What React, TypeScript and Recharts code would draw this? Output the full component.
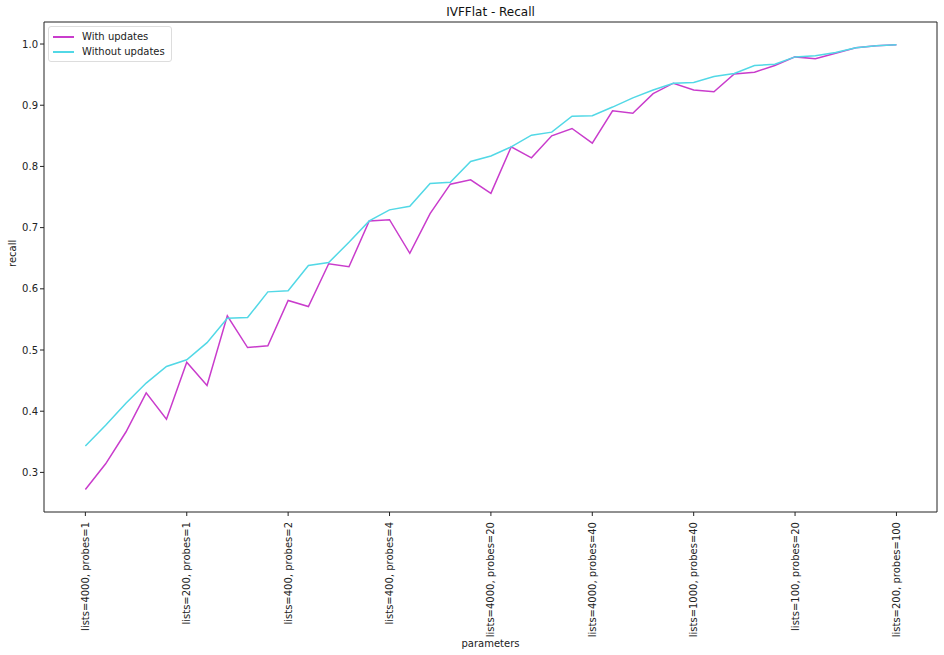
import React from 'react';
import { LineChart, Line, XAxis, YAxis, ReferenceLine } from 'recharts';

const tickLabels = [
    'lists=4000, probes=1',
    'lists=200, probes=1',
    'lists=400, probes=2',
    'lists=400, probes=4',
    'lists=4000, probes=20',
    'lists=4000, probes=40',
    'lists=1000, probes=40',
    'lists=100, probes=20',
    'lists=200, probes=100',
];
const tickPositions = [0, 5, 10, 15, 20, 25, 30, 35, 40];

const withUpdates = [
    0.272, 0.314, 0.366, 0.430, 0.387, 0.480, 0.442, 0.556, 0.504, 0.507,
    0.581, 0.571, 0.641, 0.636, 0.711, 0.713, 0.658, 0.723, 0.771, 0.778,
    0.756, 0.832, 0.814, 0.850, 0.862, 0.838, 0.891, 0.887, 0.919, 0.936,
    0.925, 0.922, 0.951, 0.954, 0.965, 0.979, 0.976, 0.985, 0.994, 0.997,
    0.999,
];
const withoutUpdates = [
    0.343, 0.377, 0.413, 0.446, 0.473, 0.484, 0.512, 0.552, 0.553, 0.595,
    0.597, 0.638, 0.643, 0.676, 0.711, 0.729, 0.735, 0.772, 0.774, 0.808,
    0.817, 0.832, 0.851, 0.856, 0.882, 0.883, 0.897, 0.912, 0.925, 0.936,
    0.937, 0.947, 0.952, 0.965, 0.967, 0.979, 0.981, 0.986, 0.994, 0.997,
    0.999,
];

const data = withUpdates.map((v, i) => ({ idx: i, withUpd: v, withoutUpd: withoutUpdates[i] }));

const FONT = 'DejaVu Sans, sans-serif';
const MAGENTA = '#c93ccc';
const CYAN = '#52d8e6';
const X_DOMAIN: [number, number] = [-2.04, 42.0];
const Y_DOMAIN: [number, number] = [0.2353, 1.036];

const labelFor = (v: number) => {
    const k = tickPositions.indexOf(v);
    return k >= 0 ? tickLabels[k] : '';
};

const XTick = (props: any) => {
    const { x, y, payload } = props;
    return (
        <text
            x={x}
            y={y + 4}
            transform={`rotate(-90, ${x}, ${y + 4})`}
            textAnchor="end"
            dy="0.35em"
            fontSize={10}
            fontFamily={FONT}
            fill="#222"
        >
            {labelFor(payload.value)}
        </text>
    );
};

const series = [
    { name: 'With updates', color: MAGENTA },
    { name: 'Without updates', color: CYAN },
];

const App: React.FC = () => {
    return (
        <div style={{ position: 'relative', width: 944, height: 655, background: '#fff' }}>
            <style>{'body{margin:0}'}</style>
            <div style={{
                position: 'absolute', top: 5, left: 44, width: 893, textAlign: 'center',
                fontFamily: FONT, fontSize: 12, color: '#111',
            }}>
                IVFFlat - Recall
            </div>
            <LineChart width={944} height={655} data={data} margin={{ top: 22, right: 7, bottom: 0, left: 0 }}>
                <XAxis
                    dataKey="idx"
                    type="number"
                    domain={X_DOMAIN}
                    ticks={tickPositions}
                    interval={0}
                    height={143}
                    tick={<XTick />}
                    tickLine={{ stroke: '#222' }}
                    tickSize={4}
                    axisLine={{ stroke: '#222' }}
                    allowDataOverflow
                    label={{ value: 'parameters', position: 'insideBottom', offset: 8, fontSize: 10, fontFamily: FONT, fill: '#222' }}
                />
                <YAxis
                    type="number"
                    domain={Y_DOMAIN}
                    ticks={[0.3, 0.4, 0.5, 0.6, 0.7, 0.8, 0.9, 1.0]}
                    tickFormatter={(v: number) => v.toFixed(1)}
                    width={44}
                    tick={{ fontSize: 10, fontFamily: FONT, fill: '#222' }}
                    tickLine={{ stroke: '#222' }}
                    tickSize={4}
                    axisLine={{ stroke: '#222' }}
                    allowDataOverflow
                    label={{ value: 'recall', angle: -90, position: 'insideLeft', offset: 12, fontSize: 10, fontFamily: FONT, fill: '#222' }}
                />
                <ReferenceLine y={Y_DOMAIN[1]} stroke="#222" />
                <ReferenceLine x={X_DOMAIN[1]} stroke="#222" />
                <Line dataKey="withUpd" name="With updates" stroke={MAGENTA} strokeWidth={1.5} dot={false} isAnimationActive={false} />
                <Line dataKey="withoutUpd" name="Without updates" stroke={CYAN} strokeWidth={1.5} dot={false} isAnimationActive={false} />
            </LineChart>
            <div style={{
                position: 'absolute', top: 26, left: 48,
                border: '1px solid #ddd', borderRadius: 3, background: '#fff',
                padding: '2px 6px 2px 4px', fontFamily: FONT, fontSize: 10, color: '#222', lineHeight: '15px',
            }}>
                {series.map((s) => (
                    <div key={s.name} style={{ display: 'flex', alignItems: 'center' }}>
                        <span style={{ display: 'inline-block', width: 21, height: 2, background: s.color, marginRight: 8 }} />
                        {s.name}
                    </div>
                ))}
            </div>
        </div>
    );
};

export default App;
